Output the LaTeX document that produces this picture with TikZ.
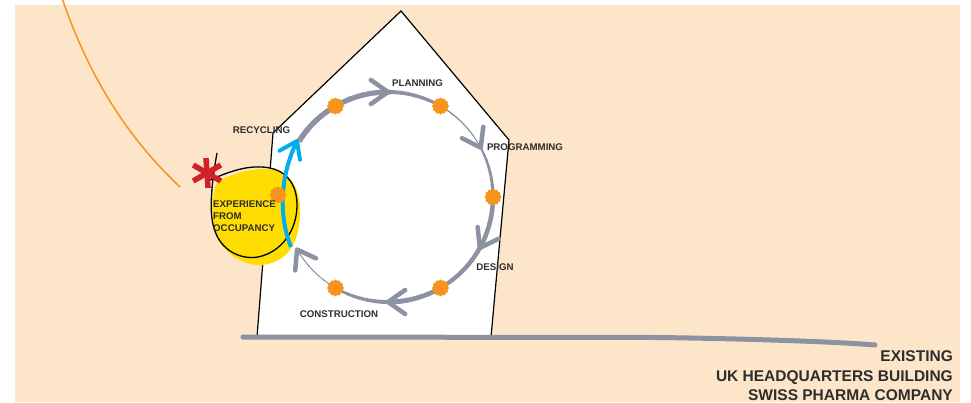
\documentclass[tikz,border=0pt]{standalone}
\usepackage{fontspec}
\setmainfont{Liberation Sans}
\usetikzlibrary{shapes.geometric,calc}
\definecolor{peach}{RGB}{253,229,202}
\definecolor{ggray}{RGB}{140,146,162}
\definecolor{orng}{RGB}{247,148,29}
\definecolor{ylw}{RGB}{255,221,0}
\definecolor{cyanb}{RGB}{0,174,239}
\definecolor{redast}{RGB}{210,32,42}
\definecolor{txt}{RGB}{45,45,45}
\tikzset{
  lbl/.style={font=\bfseries\fontsize{9.7}{11.5}\selectfont, text=txt, inner sep=0pt},
  big/.style={font=\bfseries\fontsize{15.5}{19.5}\selectfont, text=txt, inner sep=0pt, align=right},
  odot/.style={star, star points=12, star point ratio=1.15, minimum size=17pt, fill=orng, inner sep=0pt, draw=none},
  vhead/.style={ggray, line width=4.5pt, line cap=round, line join=round},
}
\newcommand\taperarc[4]{%
  \foreach \i in {0,...,7}{%
    \pgfmathsetmacro\aa{#1+(#2-#1)*\i/8}%
    \pgfmathsetmacro\bb{#1+(#2-#1)*(\i+1.15)/8}%
    \pgfmathsetmacro\ww{#3+(#4-#3)*(\i+0.5)/8}%
    \draw[ggray, line width=\ww pt] (C) ++(\aa:105) arc[start angle=\aa, end angle=\bb, radius=105];
  }}
\newcommand\arrowV[1]{%
  \coordinate (T) at ([shift={(#1:105)}]C);
  \draw[vhead] (T) ++({#1-125}:21) -- (T) -- ++({#1-55}:21);}
\begin{document}
\begin{tikzpicture}[x=1pt,y=-1pt]
\useasboundingbox (0,0) rectangle (971,402);
\fill[white] (0,0) rectangle (971,402);
\fill[peach] (15,5) rectangle (960,402);
% orange curve
\draw[orng, line width=1.5pt] (62,-2) .. controls (90,80) and (130,140) .. (180,187);
% house
\coordinate (hbl) at (257,337);
\coordinate (hls) at (273,133);
\coordinate (hap) at (401,11);
\coordinate (hrs) at (509,140);
\coordinate (hbr) at (491,337);
\fill[white] (hbl) -- (hls) -- (hap) -- (hrs) -- (hbr) -- cycle;
\draw[black, line width=1.2pt, line join=miter] (hbl) -- (hls) -- (hap) -- (hrs) -- (hbr);
% ground
\coordinate (g1) at (243,337);
\coordinate (g2) at (875,345);
\draw[ggray, line width=5pt, line cap=round] (g1) -- (660,337.5) .. controls (760,339) and (840,342) .. (g2);
% cycle
\coordinate (C) at (388,197);
\taperarc{-148}{-90}{5.5}{5}
\taperarc{-90}{-60}{4}{3}
\taperarc{-60}{-28}{1.5}{1}
\taperarc{-28}{0}{2}{3.5}
\taperarc{0}{29}{4.5}{4.5}
\taperarc{29}{60}{4.5}{4}
\taperarc{60}{90}{4.5}{5}
\taperarc{90}{120}{4}{2.5}
\taperarc{120}{150}{1}{1}
\arrowV{-90}
\arrowV{-28}
\arrowV{29}
\arrowV{90}
\arrowV{150}
\node[odot] (d1) at ([shift={(-120:105)}]C) {};
\node[odot] (d2) at ([shift={(-60:105)}]C) {};
\node[odot] (d3) at ([shift={(0:105)}]C) {};
\node[odot] (d4) at ([shift={(60:105)}]C) {};
\node[odot] (d5) at ([shift={(120:105)}]C) {};
% yellow blob
\fill[ylw] (217,182) .. controls (235,172) and (255,168) .. (270,169)
  .. controls (292,172) and (301,190) .. (300,215)
  .. controls (299,240) and (290,262) .. (262,265)
  .. controls (240,266) and (222,250) .. (216,235)
  .. controls (211,220) and (211,195) .. (217,182) -- cycle;
\draw[black, line width=1.3pt] (217,153) .. controls (213,175) and (208,210) .. (214,228)
  .. controls (220,250) and (240,260) .. (258,257)
  .. controls (282,252) and (297,230) .. (297,205)
  .. controls (297,183) and (285,168) .. (262,167)
  .. controls (245,166) and (228,172) .. (210,180);
% blue arrow
\coordinate (bs) at (291,247);
\coordinate (bt) at (297,141);
\draw[cyanb, line width=4pt] (bs) .. controls (280,220) and (278,180) .. (bt);
\draw[cyanb, line width=4pt, line cap=round, line join=round] (bt) ++(151:20) -- (bt) -- ++(81:19);
\node[odot] (d6) at (278,195) {};
% asterisk
\coordinate (ast) at (207,173);
\draw[redast, line width=5.5pt] (ast) ++(-94:15) -- ++(86:30);
\draw[redast, line width=5.5pt] (ast) ++(-150:16) -- ++(30:32);
\draw[redast, line width=5.5pt] (ast) ++(150:16) -- ++(-30:32);
% labels
\node[lbl] (planning) at (417.5,83) {PLANNING};
\node[lbl] (programming) at (525,147) {PROGRAMMING};
\node[lbl] (design) at (495,267) {DESIGN};
\node[lbl] (construction) at (339,314) {CONSTRUCTION};
\node[lbl] (recycling) at (261.5,130) {RECYCLING};
\node[lbl, align=left, anchor=west, font=\bfseries\fontsize{9.7}{12}\selectfont] (exp) at (213,216) {EXPERIENCE\\FROM\\OCCUPANCY};
\node[big, anchor=north east] (title) at (953,350.5) {EXISTING\\UK HEADQUARTERS BUILDING\\SWISS PHARMA COMPANY};
\end{tikzpicture}
\end{document}
